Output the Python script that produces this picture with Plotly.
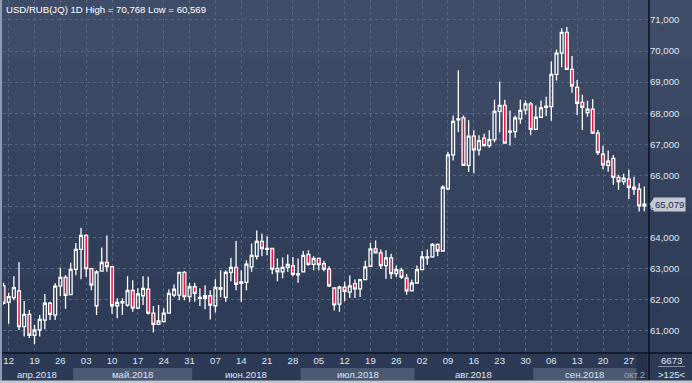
import pandas as pd
import plotly.graph_objects as go

# ---------------- data ----------------
dates = pd.bdate_range("2018-04-11", "2018-10-02").strftime("%Y-%m-%d").tolist()

open_ = [62.45, 61.92, 62.07, 62.29, 61.14, 61.53, 60.86, 61.03, 61.35, 61.89,
         61.51, 62.44, 62.72, 62.17, 62.98, 63.62, 64.07, 63.00, 61.81, 62.92,
         63.20, 63.07, 61.81, 61.90, 61.83, 62.30, 61.73, 62.13, 62.34, 61.57,
         61.21, 61.30, 61.57, 62.15, 62.15, 62.88, 62.10, 62.42, 62.05, 62.05,
         62.13, 61.81, 62.39, 62.08, 62.88, 63.04, 62.53, 62.56, 63.06, 63.40,
         63.88, 63.65, 63.65, 63.01, 62.90, 63.04, 63.09, 62.83, 62.90, 63.46,
         63.14, 63.33, 63.16, 62.99, 62.38, 61.86, 62.41, 62.25, 62.52, 62.35,
         62.65, 63.08, 63.64, 63.51, 63.10, 63.35, 62.84, 62.95, 62.70, 62.29,
         62.54, 62.97, 63.35, 63.38, 63.78, 63.57, 65.57, 66.66, 67.79, 67.85,
         66.32, 67.26, 66.82, 67.20, 66.96, 67.15, 68.06, 68.25, 67.39, 67.41,
         67.82, 68.11, 68.30, 67.48, 67.87, 68.19, 68.21, 69.25, 69.93, 70.60,
         69.41, 68.83, 68.35, 68.02, 68.13, 67.36, 66.68, 66.32, 66.55, 65.94,
         65.80, 65.88, 65.62, 65.56, 65.02]
high = [62.55, 62.23, 62.76, 63.21, 61.96, 61.67, 61.19, 61.51, 62.19, 61.94,
        62.53, 63.03, 62.79, 63.19, 63.83, 64.32, 64.10, 63.02, 62.95, 63.68,
        64.07, 63.09, 62.05, 62.05, 62.76, 62.63, 62.37, 62.76, 62.74, 61.80,
        61.83, 61.73, 62.34, 62.50, 62.90, 62.93, 62.53, 62.55, 62.37, 62.47,
        62.31, 62.66, 62.95, 62.95, 63.35, 63.89, 62.95, 63.27, 63.81, 64.23,
        64.13, 64.04, 63.66, 63.33, 63.36, 63.46, 63.38, 63.33, 63.57, 63.59,
        63.40, 63.36, 63.26, 63.08, 62.40, 62.45, 62.59, 62.78, 62.65, 62.67,
        63.26, 63.83, 63.91, 63.62, 63.59, 63.48, 63.10, 63.03, 62.83, 62.65,
        63.10, 63.57, 63.62, 63.83, 63.81, 65.68, 66.75, 67.93, 69.38, 67.93,
        67.77, 67.45, 67.29, 67.34, 67.45, 68.43, 69.02, 68.43, 68.09, 67.93,
        68.43, 68.41, 68.36, 68.25, 68.41, 68.53, 69.66, 70.05, 70.73, 70.77,
        69.84, 69.07, 68.59, 68.40, 68.45, 67.46, 66.95, 66.80, 66.66, 66.02,
        66.05, 66.18, 65.96, 65.75, 65.64]
low = [61.85, 61.23, 61.99, 61.03, 60.82, 60.77, 60.57, 60.82, 61.05, 61.35,
       61.35, 62.12, 61.71, 62.17, 62.79, 62.66, 62.74, 62.31, 61.51, 62.90,
       62.90, 61.55, 61.41, 61.51, 61.78, 61.62, 61.70, 61.83, 61.53, 60.95,
       61.19, 61.27, 61.55, 62.08, 61.99, 61.99, 61.94, 61.94, 61.80, 61.70,
       61.37, 61.59, 62.08, 61.94, 62.60, 62.31, 61.94, 62.31, 62.90, 63.30,
       63.40, 63.43, 62.82, 62.60, 62.69, 62.90, 62.76, 62.55, 62.90, 63.09,
       62.95, 62.95, 62.92, 62.41, 61.66, 61.62, 61.95, 62.06, 62.06, 62.09,
       62.63, 63.06, 63.49, 62.99, 62.67, 62.67, 62.73, 62.67, 62.16, 62.27,
       62.52, 62.95, 63.13, 63.35, 63.40, 63.55, 65.52, 66.48, 67.39, 66.30,
       66.11, 66.07, 66.64, 66.93, 66.89, 67.07, 67.39, 67.02, 66.96, 67.21,
       67.66, 67.96, 67.29, 67.46, 67.85, 67.91, 67.76, 69.05, 69.48, 69.40,
       68.66, 67.94, 67.46, 67.89, 67.33, 66.66, 66.20, 66.12, 65.70, 65.54,
       65.70, 65.24, 65.37, 64.84, 64.85]
close = [61.89, 62.10, 62.39, 61.14, 61.53, 60.86, 61.03, 61.37, 61.89, 61.53,
         62.44, 62.72, 62.14, 62.98, 63.62, 64.07, 63.00, 62.47, 62.90, 63.20,
         63.07, 61.81, 61.92, 61.94, 62.30, 61.73, 62.19, 62.37, 61.57, 61.21,
         61.32, 61.57, 62.21, 62.34, 62.88, 62.10, 62.42, 62.21, 62.08, 62.13,
         61.83, 62.40, 62.34, 62.88, 63.04, 62.50, 62.58, 63.15, 63.43, 63.88,
         63.65, 63.62, 62.99, 62.90, 63.04, 63.14, 62.82, 62.80, 63.43, 63.14,
         63.33, 63.13, 62.99, 62.45, 61.84, 62.41, 62.27, 62.45, 62.35, 62.65,
         63.06, 63.64, 63.51, 63.10, 63.35, 62.84, 62.97, 62.73, 62.29, 62.54,
         62.97, 63.38, 63.38, 63.78, 63.57, 65.62, 66.66, 67.74, 67.82, 66.32,
         67.26, 66.82, 67.12, 66.96, 67.15, 68.06, 68.25, 67.04, 67.42, 67.85,
         68.09, 68.30, 67.48, 67.87, 68.17, 68.23, 69.25, 69.93, 70.60, 69.41,
         68.88, 68.32, 68.19, 68.13, 67.36, 66.73, 66.34, 66.46, 65.94, 65.80,
         65.91, 65.62, 65.56, 65.02, 65.079]

tick_dates = ["2018-04-12", "2018-04-19", "2018-04-26", "2018-05-03", "2018-05-10",
              "2018-05-17", "2018-05-24", "2018-05-31", "2018-06-07", "2018-06-14",
              "2018-06-21", "2018-06-28", "2018-07-05", "2018-07-12", "2018-07-19",
              "2018-07-26", "2018-08-02", "2018-08-09", "2018-08-16", "2018-08-23",
              "2018-08-30", "2018-09-06", "2018-09-13", "2018-09-20", "2018-09-27"]
tick_labels = ["12", "19", "26", "03", "10", "17", "24", "31", "07", "14", "21", "28",
               "05", "12", "19", "26", "02", "09", "16", "23", "30", "06", "13", "20", "27"]

price_ticks = [61, 62, 63, 64, 65, 66, 67, 68, 69, 70, 71]
price_labels = ["61,000", "62,000", "63,000", "64,000", "65,000", "66,000",
                "67,000", "68,000", "69,000", "70,000", "71,000"]

month_keys = ["2018-04", "2018-05", "2018-06", "2018-07", "2018-08", "2018-09", "2018-10"]
month_labels = ["апр.2018", "май.2018", "июн.2018", "июл.2018", "авг.2018", "сен.2018", "окт.2"]

title_text = "USD/RUB(JQ) 1D High = 70,768 Low = 60,569"
last_price_label = "65,079"
bars_label = ">125<"
count_label = "6673"

# ---------------- layout geometry ----------------
W, H = 692, 383
PX0, PX1 = 3, 649          # plot area left/right (px)
PY1 = 353                  # plot area bottom (px)
XR = [-0.1, 124.9]
YR = [60.29, 71.64]
FONT = "Liberation Sans"


def px(x):
    return x / W


def py(y):
    return 1 - y / H


def idx_to_px(i):
    return PX0 + (i - XR[0]) / (XR[1] - XR[0]) * (PX1 - PX0)


fig = go.Figure()
fig.add_trace(go.Candlestick(
    x=dates, open=open_, high=high, low=low, close=close,
    increasing=dict(line=dict(color="#ffffff", width=1.3), fillcolor="rgba(0,0,0,0)"),
    decreasing=dict(line=dict(color="#ffffff", width=1.3), fillcolor="#e3163f"),
    whiskerwidth=0, showlegend=False, hoverinfo="skip",
))

shapes = []
# stepped background gradient
bands = [(0, 57, "#3f4c68"), (57, 115, "#3c4965"), (115, 152, "#394662"),
         (152, 213, "#36435f"), (213, 277, "#323f5b"), (277, 353, "#2f3c57")]
for y0, y1, c in bands:
    shapes.append(dict(type="rect", xref="paper", yref="paper", x0=0, x1=1,
                       y0=py(y1), y1=py(y0), fillcolor=c, line_width=0, layer="below"))
# bottom rows background
shapes.append(dict(type="rect", xref="paper", yref="paper", x0=0, x1=1,
                   y0=py(381), y1=py(353), fillcolor="#2d3a55", line_width=0, layer="below"))

# month bands
month_of = [d[:7] for d in dates]
month_spans = []
for k in month_keys:
    ids = [i for i, m in enumerate(month_of) if m == k]
    a = max(idx_to_px(ids[0] - 0.5), 0)
    b = min(idx_to_px(ids[-1] + 0.5), PX1)
    month_spans.append((a, b))
for j, (a, b) in enumerate(month_spans):
    if j == len(month_spans) - 1:
        shapes.append(dict(type="rect", xref="paper", yref="paper", x0=px(a), x1=px(b),
                           y0=py(381), y1=py(353), fillcolor="#26314a", line_width=0, layer="below"))
    elif j % 2 == 1:
        shapes.append(dict(type="rect", xref="paper", yref="paper", x0=px(a), x1=px(b),
                           y0=py(380), y1=py(368), fillcolor="#4b5973", line_width=0, layer="below"))

# frame lines
shapes.append(dict(type="line", xref="paper", yref="paper", x0=px(PX1), x1=px(PX1),
                   y0=py(381), y1=1, line=dict(color="#0b1120", width=1.5)))
shapes.append(dict(type="line", xref="paper", yref="paper", x0=0, x1=1,
                   y0=py(PY1), y1=py(PY1), line=dict(color="#0b1120", width=1.5)))
shapes.append(dict(type="rect", xref="paper", yref="paper", x0=0, x1=px(2),
                   y0=0, y1=1, fillcolor="#8e9bb0", line_width=0))
shapes.append(dict(type="rect", xref="paper", yref="paper", x0=0, x1=1,
                   y0=0, y1=py(380.5), fillcolor="#c3c8d0", line_width=0))
shapes.append(dict(type="line", xref="paper", yref="paper", x0=px(658), x1=px(685),
                   y0=py(366.5), y1=py(366.5), line=dict(color="#8390a6", width=1)))
# last price marker arrow
shapes.append(dict(type="path", xref="paper", yref="y",
                   path=f"M {px(649.5)} {close[-1]} L {px(654)} {close[-1] + 0.19} L {px(654)} {close[-1] - 0.19} Z",
                   fillcolor="#c5c9d1", line_width=0))

annotations = [
    dict(text=title_text, xref="paper", yref="paper", x=px(4), y=py(9),
         xanchor="left", yanchor="middle", showarrow=False,
         font=dict(family=FONT, size=9.6, color="#ffffff")),
    dict(text=last_price_label, xref="paper", yref="y", x=px(653), y=close[-1],
         xanchor="left", yanchor="middle", showarrow=False, bgcolor="#c5c9d1",
         borderpad=1, font=dict(family=FONT, size=9.6, color="#1b2c52")),
    dict(text=count_label, xref="paper", yref="paper", x=px(671), y=py(360),
         xanchor="center", yanchor="middle", showarrow=False,
         font=dict(family=FONT, size=9.6, color="#dfe6f0")),
    dict(text=bars_label, xref="paper", yref="paper", x=px(672), y=py(374),
         xanchor="center", yanchor="middle", showarrow=False,
         font=dict(family=FONT, size=9.6, color="#dfe6f0")),
]
for j, ((a, b), lab) in enumerate(zip(month_spans, month_labels)):
    if j == len(month_spans) - 1:
        annotations.append(dict(text=lab, xref="paper", yref="paper", x=px(b), y=py(374),
                                xanchor="right", yanchor="middle", showarrow=False,
                                font=dict(family=FONT, size=9.6, color="#9aa6b8")))
    else:
        annotations.append(dict(text=lab, xref="paper", yref="paper", x=px((a + b) / 2),
                                y=py(374), xanchor="center", yanchor="middle", showarrow=False,
                                font=dict(family=FONT, size=9.6, color="#dfe6f0")))

fig.update_layout(
    width=W, height=H, margin=dict(l=0, r=0, t=0, b=0),
    paper_bgcolor="#2d3a55", plot_bgcolor="rgba(0,0,0,0)",
    shapes=shapes, annotations=annotations, boxgap=0.22,
    xaxis=dict(type="category", domain=[px(PX0), px(PX1)], range=XR,
               rangeslider=dict(visible=False), tickmode="array",
               tickvals=tick_dates, ticktext=tick_labels, ticks="",
               showgrid=True, gridcolor="#566580", griddash="3px,3px", gridwidth=1,
               showline=False, zeroline=False,
               tickfont=dict(family=FONT, size=9.6, color="#dfe6f0")),
    yaxis=dict(domain=[1 - PY1 / H, 1], range=YR, side="right",
               tickmode="array", tickvals=price_ticks, ticktext=price_labels,
               ticks="", showgrid=True, gridcolor="#566580", griddash="3px,3px",
               gridwidth=1, zeroline=False, showline=False,
               tickfont=dict(family=FONT, size=9.6, color="#dfe6f0")),
    hovermode=False,
)

fig.write_html("out.html", config={"displayModeBar": False},
               post_script="document.body.style.margin='0';document.body.style.overflow='hidden';")
